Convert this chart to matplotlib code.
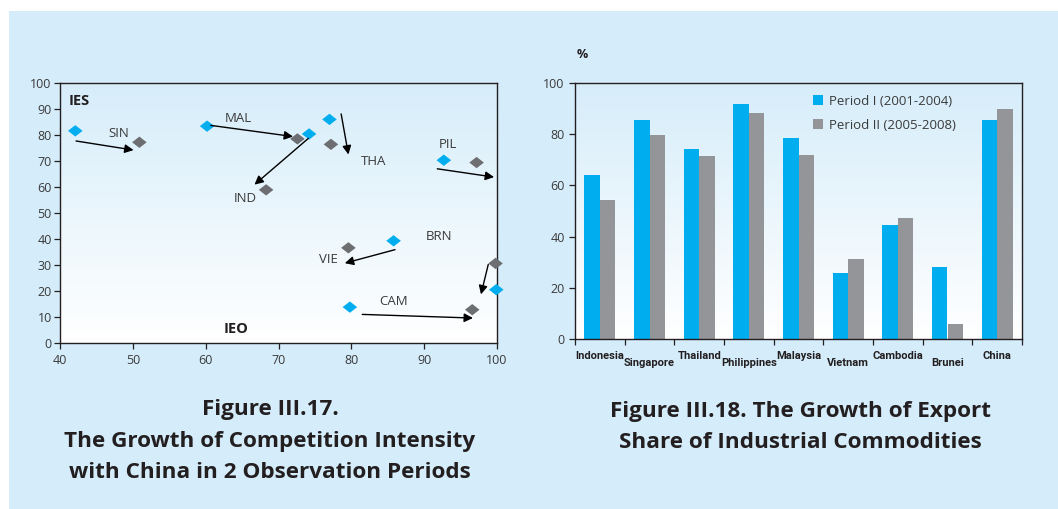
import matplotlib.pyplot as plt
import numpy as np
from matplotlib.patches import Rectangle

# --- data: competition intensity (left chart) ---
ieo_period1 = [42.1, 60.2, 74.2, 77.0, 92.7, 85.8, 79.8, 99.9]
ies_period1 = [81.6, 83.4, 80.4, 86.0, 70.3, 39.3, 13.8, 20.5]
ieo_period2 = [50.9, 72.6, 77.2, 68.3, 97.2, 79.6, 99.8, 96.6]
ies_period2 = [77.2, 78.5, 76.4, 58.9, 69.4, 36.6, 30.6, 12.8]

arrow_start = [(42.2, 77.7), (60.7, 83.7), (74.1, 78.7), (78.6, 88.1),
               (91.8, 67.0), (86.0, 35.9), (81.5, 11.0), (98.8, 30.2)]
arrow_end = [(50.1, 74.2), (72.0, 79.4), (66.7, 60.9), (79.6, 72.5),
             (99.6, 63.8), (79.1, 30.7), (96.7, 9.6), (97.8, 18.7)]

country_codes = ["SIN", "MAL", "IND", "THA", "PIL", "BRN", "VIE", "CAM"]
code_x = [48.1, 64.5, 65.4, 83.1, 93.3, 92.1, 76.9, 85.8]
code_y = [80.7, 86.4, 55.4, 69.9, 76.3, 41.1, 32.3, 16.1]

# --- data: export share (right chart) ---
countries = ["Indonesia", "Singapore", "Thailand", "Philippines", "Malaysia",
             "Vietnam", "Cambodia", "Brunei", "China"]
share_period1 = [64.1, 85.6, 74.3, 91.9, 78.6, 25.7, 44.5, 28.1, 85.6]
share_period2 = [54.3, 79.8, 71.5, 88.4, 71.9, 31.2, 47.3, 5.7, 89.9]

BLUE = "#00aeef"
GRAY_MARK = "#6d6e71"
GRAY_BAR = "#939598"
PANEL = "#d5ecfa"
TEXT = "#231f20"
TICK_TEXT = "#3a3a3a"
SPINE = "#231f20"

plt.rcParams["font.family"] = ["Open Sans", "DejaVu Sans"]

W, H = 1058, 509
fig = plt.figure(figsize=(W / 100, H / 100), dpi=100)
fig.patch.set_facecolor("white")
fig.patches.append(Rectangle((9 / W, 0), 1 - 9 / W, 1 - 11 / H,
                             transform=fig.transFigure, facecolor=PANEL,
                             edgecolor="none", zorder=-10))


def px_axes(x0, x1, y0, y1):
    return fig.add_axes([x0 / W, 1 - y1 / H, (x1 - x0) / W, (y1 - y0) / H])


def gradient_bg(ax):
    grad = np.linspace(0, 1, 256).reshape(-1, 1)
    top = np.array([0.84, 0.93, 0.98])
    bottom = np.array([1.0, 1.0, 1.0])
    img = top[None, None, :] * (1 - grad[:, :, None]) + bottom[None, None, :] * grad[:, :, None]
    ax.imshow(img, extent=[0, 1, 0, 1], transform=ax.transAxes,
              aspect="auto", zorder=0, origin="upper")


def style_spines(ax):
    for sp in ax.spines.values():
        sp.set_color(SPINE)
        sp.set_linewidth(1.0)
    ax.tick_params(direction="out", length=4, width=0.9, color=SPINE,
                   labelcolor=TICK_TEXT, labelsize=9)


# diamond slightly wider than tall
diamond = [(-1, 0), (0, 0.78), (1, 0), (0, -0.78), (-1, 0)]

# ---------------- left chart ----------------
ax1 = px_axes(60, 497, 83, 343)
gradient_bg(ax1)
ax1.set_xlim(40, 100)
ax1.set_ylim(0, 100)
ax1.set_xticks(range(40, 101, 10))
ax1.set_yticks(range(0, 101, 10))
style_spines(ax1)
ax1.tick_params(axis="x", pad=4)
ax1.tick_params(axis="y", pad=2)

ax1.scatter(ieo_period1, ies_period1, marker=diamond, s=110, color=BLUE,
            edgecolors="none", zorder=3, clip_on=False)
ax1.scatter(ieo_period2, ies_period2, marker=diamond, s=110, color=GRAY_MARK,
            edgecolors="none", zorder=3, clip_on=False)

for (xs, ys), (xe, ye) in zip(arrow_start, arrow_end):
    ax1.annotate("", xy=(xe, ye), xytext=(xs, ys),
                 arrowprops=dict(arrowstyle="-|>", color="black", lw=1.0,
                                 mutation_scale=13, shrinkA=0, shrinkB=0),
                 zorder=4)

for code, cx, cy in zip(country_codes, code_x, code_y):
    ax1.text(cx, cy, code, ha="center", va="center", fontsize=9.5,
             color="#3a3a3a", zorder=5)

ax1.text(42.6, 93.2, "IES", ha="center", va="center", fontsize=10.5,
         fontweight="bold", color=TEXT)
ax1.text(64.2, 5.5, "IEO", ha="center", va="center", fontsize=10.5,
         fontweight="bold", color=TEXT)

# ---------------- right chart ----------------
ax2 = px_axes(575, 1022, 83, 339)
gradient_bg(ax2)
x = np.arange(len(countries))
bw = 0.31
ax2.bar(x - bw / 2, share_period1, width=bw, color=BLUE, zorder=2,
        label="Period I (2001-2004)")
ax2.bar(x + bw / 2, share_period2, width=bw, color=GRAY_BAR, zorder=2,
        label="Period II (2005-2008)")
ax2.set_xlim(-0.5, len(countries) - 0.5)
ax2.set_ylim(0, 100)
ax2.set_yticks(range(0, 101, 20))
style_spines(ax2)
ax2.set_xticks(np.arange(-0.5, len(countries), 1.0))
ax2.set_xticklabels([])
ax2.tick_params(axis="x", length=4)

for i, name in enumerate(countries):
    offset = 17 if i % 2 == 0 else 24
    ax2.annotate(name, xy=(i, 0), xycoords=("data", "axes fraction"),
                 xytext=(0, -offset), textcoords="offset pixels",
                 ha="center", va="center", fontsize=8, fontweight="bold",
                 color=TEXT, family=["Roboto", "DejaVu Sans"])

ax2.text(582 / W, 1 - 55 / H, "%", transform=fig.transFigure, ha="center",
         va="center", fontsize=9, fontweight="bold", color=TEXT)

leg = ax2.legend(loc="upper left", bbox_to_anchor=(0.52, 0.975), frameon=False,
                 fontsize=9.5, handlelength=0.8, handleheight=0.8,
                 handletextpad=0.4, labelspacing=0.85, borderaxespad=0)
for t in leg.get_texts():
    t.set_color("#3a3a3a")

# ---------------- captions ----------------
cap_kw = dict(ha="center", va="center", fontsize=16.2, fontweight="bold",
              color=TEXT, transform=fig.transFigure)
fig.text(270 / W, 1 - 410 / H, "Figure III.17.", **cap_kw)
fig.text(270 / W, 1 - 441 / H, "The Growth of Competition Intensity", **cap_kw)
fig.text(270 / W, 1 - 472 / H, "with China in 2 Observation Periods", **cap_kw)
fig.text(800 / W, 1 - 412 / H, "Figure III.18. The Growth of Export", **cap_kw)
fig.text(800 / W, 1 - 442 / H, "Share of Industrial Commodities", **cap_kw)

fig.savefig("out.png", dpi=100, facecolor=fig.get_facecolor())
